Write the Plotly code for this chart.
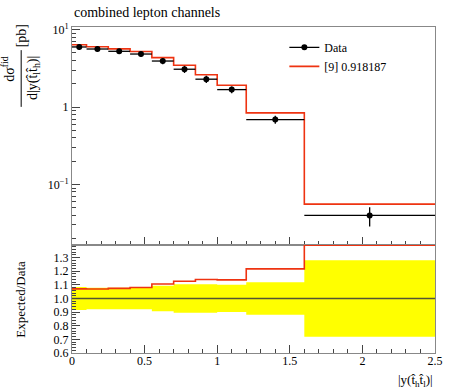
import plotly.graph_objects as go

edges = [0.0, 0.1, 0.25, 0.4, 0.55, 0.7, 0.85, 1.0, 1.2, 1.6, 2.5]
data_vals = [5.97, 5.62, 5.25, 4.84, 3.93, 3.08, 2.29, 1.68, 0.69, 0.0398]
data_relerr = [0.085, 0.078, 0.078, 0.078, 0.094, 0.105, 0.105, 0.10, 0.12, 0.28]
mc_vals = [6.39, 6.01, 5.64, 5.23, 4.35, 3.47, 2.61, 1.91, 0.84, 0.0557]

centers = [(a + b) / 2 for a, b in zip(edges[:-1], edges[1:])]
halfw = [(b - a) / 2 for a, b in zip(edges[:-1], edges[1:])]
abs_err = [v * e for v, e in zip(data_vals, data_relerr)]
ratio = [m / d for m, d in zip(mc_vals, data_vals)]

FONT = "Liberation Serif"
RED = "#EE3311"

fig = go.Figure()

# legend entries first
fig.add_trace(go.Scatter(x=[None], y=[None], mode="lines+markers", name="Data",
                         line=dict(color="black", width=1.3), marker=dict(color="black", size=6),
                         xaxis="x", yaxis="y", legendrank=1))
fig.add_trace(go.Scatter(x=[None], y=[None], mode="lines", name="[9] 0.918187",
                         line=dict(color=RED, width=1.6), xaxis="x", yaxis="y", legendrank=2))

# main panel MC step
fig.add_trace(go.Scatter(x=edges, y=mc_vals + [mc_vals[-1]], mode="lines", line_shape="hv",
                         line=dict(color=RED, width=1.6), showlegend=False, xaxis="x", yaxis="y"))
# data points
fig.add_trace(go.Scatter(x=centers, y=data_vals, mode="markers",
                         marker=dict(color="black", size=6),
                         error_x=dict(type="data", array=halfw, width=0, color="black", thickness=1.3),
                         error_y=dict(type="data", array=abs_err, width=0, color="black", thickness=1.3),
                         showlegend=False, xaxis="x", yaxis="y"))

# ratio band
lo = [1 - e for e in data_relerr]
hi = [1 + e for e in data_relerr]
fig.add_trace(go.Scatter(x=edges, y=lo + [lo[-1]], mode="lines", line_shape="hv",
                         line=dict(width=0, color="yellow"), showlegend=False,
                         xaxis="x2", yaxis="y2", hoverinfo="skip"))
fig.add_trace(go.Scatter(x=edges, y=hi + [hi[-1]], mode="lines", line_shape="hv",
                         line=dict(width=0, color="yellow"), fill="tonexty", fillcolor="#ffff00",
                         showlegend=False, xaxis="x2", yaxis="y2", hoverinfo="skip"))
fig.add_trace(go.Scatter(x=[edges[0], edges[-1]], y=[1, 1], mode="lines",
                         line=dict(color="#555533", width=1.3), showlegend=False,
                         xaxis="x2", yaxis="y2"))
ratio_clip = [min(r, 1.392) for r in ratio]
fig.add_trace(go.Scatter(x=edges, y=ratio_clip + [ratio_clip[-1]], mode="lines", line_shape="hv",
                         line=dict(color=RED, width=1.6), showlegend=False, cliponaxis=False,
                         xaxis="x2", yaxis="y2"))

axcommon = dict(showline=True, linecolor="#888888", linewidth=1, mirror=True, automargin=False,
                ticks="inside", tickcolor="#444444", showgrid=False, zeroline=False)

fig.update_layout(
    width=450, height=390,
    margin=dict(l=72, r=15, t=27, b=37),
    paper_bgcolor="white", plot_bgcolor="white",
    font=dict(family=FONT, size=12, color="black"),
    xaxis=dict(domain=[0, 1], range=[0, 2.5], anchor="y", showticklabels=False,
               tickvals=[0, 0.5, 1, 1.5, 2, 2.5], ticklen=8,
               minor=dict(dtick=0.1, ticklen=4, ticks="inside", tickcolor="#444444"), **axcommon),
    yaxis=dict(domain=[0.331, 1], type="log", range=[-1.783, 1.034], anchor="x",
               tickvals=[0.1, 1, 10], ticktext=["10<sup>−1</sup>", "1", "10<sup>1</sup>"], ticklen=8,
               minor=dict(tickvals=[0.02, 0.03, 0.04, 0.05, 0.06, 0.07, 0.08, 0.09,
                                    0.2, 0.3, 0.4, 0.5, 0.6, 0.7, 0.8, 0.9,
                                    2, 3, 4, 5, 6, 7, 8, 9],
                          ticklen=4, ticks="inside", tickcolor="#444444"),
               tickfont=dict(size=12), **axcommon),
    xaxis2=dict(domain=[0, 1], range=[0, 2.5], anchor="y2",
                tickvals=[0, 0.5, 1, 1.5, 2, 2.5], ticktext=["0", "0.5", "1", "1.5", "2", "2.5"],
                ticklen=8, ticklabelstandoff=-3,
                minor=dict(dtick=0.1, ticklen=4, ticks="inside", tickcolor="#444444"),
                tickfont=dict(size=12), **axcommon),
    yaxis2=dict(domain=[0, 0.331], range=[0.6, 1.392], anchor="x2",
                tickvals=[0.6, 0.7, 0.8, 0.9, 1.0, 1.1, 1.2, 1.3], tickformat=".1f", ticklen=8,
                minor=dict(dtick=0.02, ticklen=4, ticks="inside", tickcolor="#444444"),
                tickfont=dict(size=12), **axcommon),
    legend=dict(x=0.585, y=0.982, xanchor="left", yanchor="top", bgcolor="rgba(0,0,0,0)",
                font=dict(size=12), tracegroupgap=0, itemwidth=30, traceorder="normal"),
    showlegend=True,
)

ann = []
ann.append(dict(text="combined lepton channels", xref="paper", yref="paper", x=0.0, y=1.0,
                yshift=5, xanchor="left", yanchor="bottom", showarrow=False, font=dict(size=14)))
# main y title as fraction (rotated)
ann.append(dict(text="dσ<sup>fid</sup>", xref="paper", yref="paper", x=-0.176, y=0.872,
                xanchor="center", yanchor="middle", textangle=-90, showarrow=False, font=dict(size=14)))
ann.append(dict(text="d|y(t̂<sub>l</sub>t̂<sub>h</sub>)|", xref="paper", yref="paper", x=-0.106, y=0.842,
                xanchor="center", yanchor="middle", textangle=-90, showarrow=False, font=dict(size=14)))
ann.append(dict(text="[pb]", xref="paper", yref="paper", x=-0.140, y=0.972,
                xanchor="center", yanchor="middle", textangle=-90, showarrow=False, font=dict(size=14)))
ann.append(dict(text="Expected/Data", xref="paper", yref="paper", x=-0.143, y=0.164,
                xanchor="center", yanchor="middle", textangle=-90, showarrow=False, font=dict(size=13)))
ann.append(dict(text="|y(t̂<sub>h</sub>t̂<sub>l</sub>)|", xref="paper", yref="paper", x=1.0, y=0,
                yshift=-17, xanchor="right", yanchor="top", showarrow=False, font=dict(size=13)))
fig.update_layout(annotations=ann)

fig.add_shape(type="line", xref="paper", yref="paper", x0=-0.140, x1=-0.140, y0=0.755, y1=0.929,
              line=dict(color="black", width=1))

fig.write_html("out.html", config={"displayModeBar": False},
               post_script="document.body.style.margin='0';document.body.style.overflow='hidden';")
